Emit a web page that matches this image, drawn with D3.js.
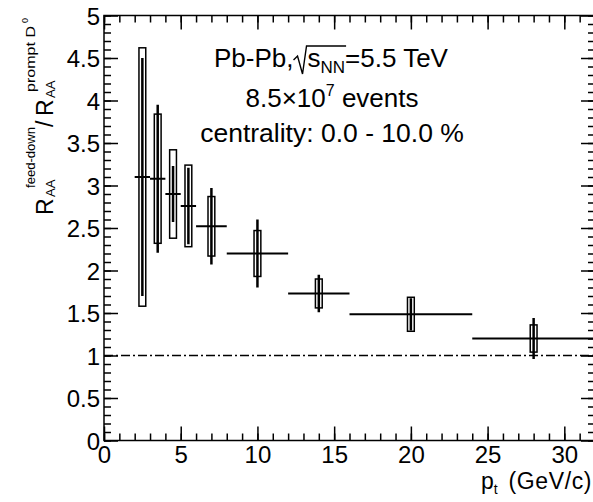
<!DOCTYPE html>
<html>
<head>
<meta charset="utf-8">
<script src="https://cdn.jsdelivr.net/npm/d3@7"></script>
<style>
body { margin: 0; background: #fff; }
text { font-family: "Liberation Sans", Arial, sans-serif; fill: #000; }
</style>
</head>
<body>
<div id="chart"></div>
<script>
// pt bins (GeV/c)
var ptCenter = [2.5, 3.5, 4.5, 5.5, 7, 10, 14, 20, 28];
var ptLow = [2, 3, 4, 5, 6, 8, 12, 16, 24];
var ptHigh = [3, 4, 5, 6, 8, 12, 16, 24, 32];
// R_AA(feed-down) / R_AA(prompt D0)
var ratio = [3.1, 3.08, 2.9, 2.76, 2.52, 2.2, 1.73, 1.485, 1.2];
var statErr = [1.4, 0.87, 0.33, 0.45, 0.45, 0.4, 0.22, 0.19, 0.24];
var sysErr = [1.52, 0.76, 0.52, 0.48, 0.35, 0.27, 0.17, 0.2, 0.16];

var xMajor = [0, 5, 10, 15, 20, 25, 30];
var xMinor = d3.range(0, 33, 1);
var yMajor = [0, 0.5, 1, 1.5, 2, 2.5, 3, 3.5, 4, 4.5, 5];
var yMinor = d3.range(0, 5.001, 0.1);

var width = 593, height = 502;
var boxHalf = 3.4;

var svg = d3.select("#chart").append("svg")
    .attr("width", width).attr("height", height);

var x = d3.scaleLinear().domain([0, 32]).range([104, 595]);
var y = d3.scaleLinear().domain([0, 5]).range([440.5, 15.5]);

svg.append("clipPath").attr("id", "plotClip").append("rect")
    .attr("x", x(0)).attr("y", y(5)).attr("width", x(32) - x(0)).attr("height", y(0) - y(5));

/**
 * tick marks pointing inside the frame, ROOT style
 */
var drawAxis = function(axisFn, scale, ty, tx, values, size, labels){
    var g = svg.append("g").attr("transform", "translate(" + tx + "," + ty + ")")
        .call(axisFn(scale).tickValues(values).tickSize(-size).tickPadding(labels ? 5 : 0)
            .tickFormat(labels ? d3.format("") : ""));
    g.select(".domain").remove();
    g.selectAll(".tick line").attr("stroke", "#000").attr("stroke-width", 1.5);
    g.selectAll(".tick text").style("font-size", "24px").attr("fill", "#000");
    return g;
};

drawAxis(d3.axisBottom, x, y(0), 0, xMinor, 7, false);
drawAxis(d3.axisBottom, x, y(0), 0, xMajor, 14, true);
drawAxis(d3.axisTop, x, y(5), 0, xMinor, 7, false);
drawAxis(d3.axisTop, x, y(5), 0, xMajor, 14, false);
drawAxis(d3.axisLeft, y, 0, x(0), yMinor, 7, false);
var yl = drawAxis(d3.axisLeft, y, 0, x(0), yMajor, 14, true);
yl.selectAll(".tick text").attr("x", -4).attr("dy", "0.36em");
drawAxis(d3.axisRight, y, 0, x(32), yMinor, 7, false);
drawAxis(d3.axisRight, y, 0, x(32), yMajor, 14, false);

svg.append("rect")
    .attr("x", x(0)).attr("y", y(5))
    .attr("width", x(32) - x(0)).attr("height", y(0) - y(5))
    .attr("fill", "none").attr("stroke", "#000").attr("stroke-width", 1.5);

// reference line at 1
svg.append("line")
    .attr("x1", x(0)).attr("x2", x(32)).attr("y1", y(1)).attr("y2", y(1))
    .attr("stroke", "#000").attr("stroke-width", 1.5)
    .attr("stroke-dasharray", "9,3,2,3");

var pts = ptCenter.map(function(c, i){
    return {c: c, lo: ptLow[i], hi: ptHigh[i], v: ratio[i], s: statErr[i], sy: sysErr[i]};
});

var plot = svg.append("g").attr("clip-path", "url(#plotClip)");

plot.selectAll("rect.sys").data(pts).enter().append("rect")
    .attr("class", "sys")
    .attr("x", function(d){ return x(d.c) - boxHalf; })
    .attr("width", boxHalf * 2)
    .attr("y", function(d){ return y(d.v + d.sy); })
    .attr("height", function(d){ return y(d.v - d.sy) - y(d.v + d.sy); })
    .attr("fill", "none").attr("stroke", "#000").attr("stroke-width", 1.5);

plot.selectAll("line.stat").data(pts).enter().append("line")
    .attr("class", "stat")
    .attr("x1", function(d){ return x(d.c); }).attr("x2", function(d){ return x(d.c); })
    .attr("y1", function(d){ return y(d.v - d.s); }).attr("y2", function(d){ return y(d.v + d.s); })
    .attr("stroke", "#000").attr("stroke-width", 2.5);

plot.selectAll("line.bin").data(pts).enter().append("line")
    .attr("class", "bin")
    .attr("x1", function(d){ return x(d.lo); }).attr("x2", function(d){ return x(d.hi); })
    .attr("y1", function(d){ return y(d.v); }).attr("y2", function(d){ return y(d.v); })
    .attr("stroke", "#000").attr("stroke-width", 2);

// x axis title
var xt = svg.append("text").attr("x", 592).attr("y", 488.5).attr("text-anchor", "end")
    .style("font-size", "23px");
xt.append("tspan").text("p");
xt.append("tspan").attr("dy", 5).style("font-size", "14px").text("t");
xt.append("tspan").attr("dy", -5).attr("dx", 4).style("letter-spacing", "0.6px").text(" (GeV/c)");

// y axis title, rotated
var yt = svg.append("g").attr("transform", "translate(53,215) rotate(-90)");
var ytPieces = [
    {t: "R", a: 0, b: 0, s: 23},
    {t: "AA", a: 18, b: 2, s: 13},
    {t: "feed-down", a: 27, b: -18, s: 13, len: 61},
    {t: "/", a: 88, b: 0, s: 23},
    {t: "R", a: 99, b: 0, s: 23},
    {t: "AA", a: 117, b: 2, s: 13},
    {t: "prompt D", a: 123, b: -18, s: 13, len: 66},
    {t: "0", a: 192, b: -25, s: 9}
];
ytPieces.forEach(function(p){
    var t = yt.append("text").attr("x", p.a).attr("y", p.b).style("font-size", p.s + "px").text(p.t);
    if (p.len) t.attr("textLength", p.len).attr("lengthAdjust", "spacingAndGlyphs");
});

// labels
var l1 = svg.append("text").attr("x", 331).attr("y", 67).attr("text-anchor", "middle")
    .style("font-size", "26px");
l1.append("tspan").text("Pb-Pb,");
l1.append("tspan").attr("dx", 14).text("s");
l1.append("tspan").attr("dy", 6).style("font-size", "17px").text("NN");
l1.append("tspan").attr("dy", -6).text("=5.5 TeV");

// radical sign drawn by hand over s_NN
var l1node = l1.node();
var sStart = l1node.getStartPositionOfChar(6);
var nnEnd = l1node.getEndPositionOfChar(8);
svg.append("path")
    .attr("d", "M" + (sStart.x - 14) + "," + 60 + "L" + (sStart.x - 10) + "," + 56 +
        "L" + (sStart.x - 5) + "," + 74 + "L" + (sStart.x - 1) + "," + 46 + "L" + (nnEnd.x + 1) + "," + 46)
    .attr("fill", "none").attr("stroke", "#000").attr("stroke-width", 1.4);

var l2 = svg.append("text").attr("x", 332).attr("y", 107).attr("text-anchor", "middle")
    .style("font-size", "26px");
l2.append("tspan").text("8.5\u00d710");
l2.append("tspan").attr("dy", -11).style("font-size", "16px").text("7");
l2.append("tspan").attr("dy", 11).text(" events");

svg.append("text").attr("x", 332).attr("y", 142).attr("text-anchor", "middle")
    .style("font-size", "26.5px").text("centrality: 0.0 - 10.0 %");
</script>
</body>
</html>
